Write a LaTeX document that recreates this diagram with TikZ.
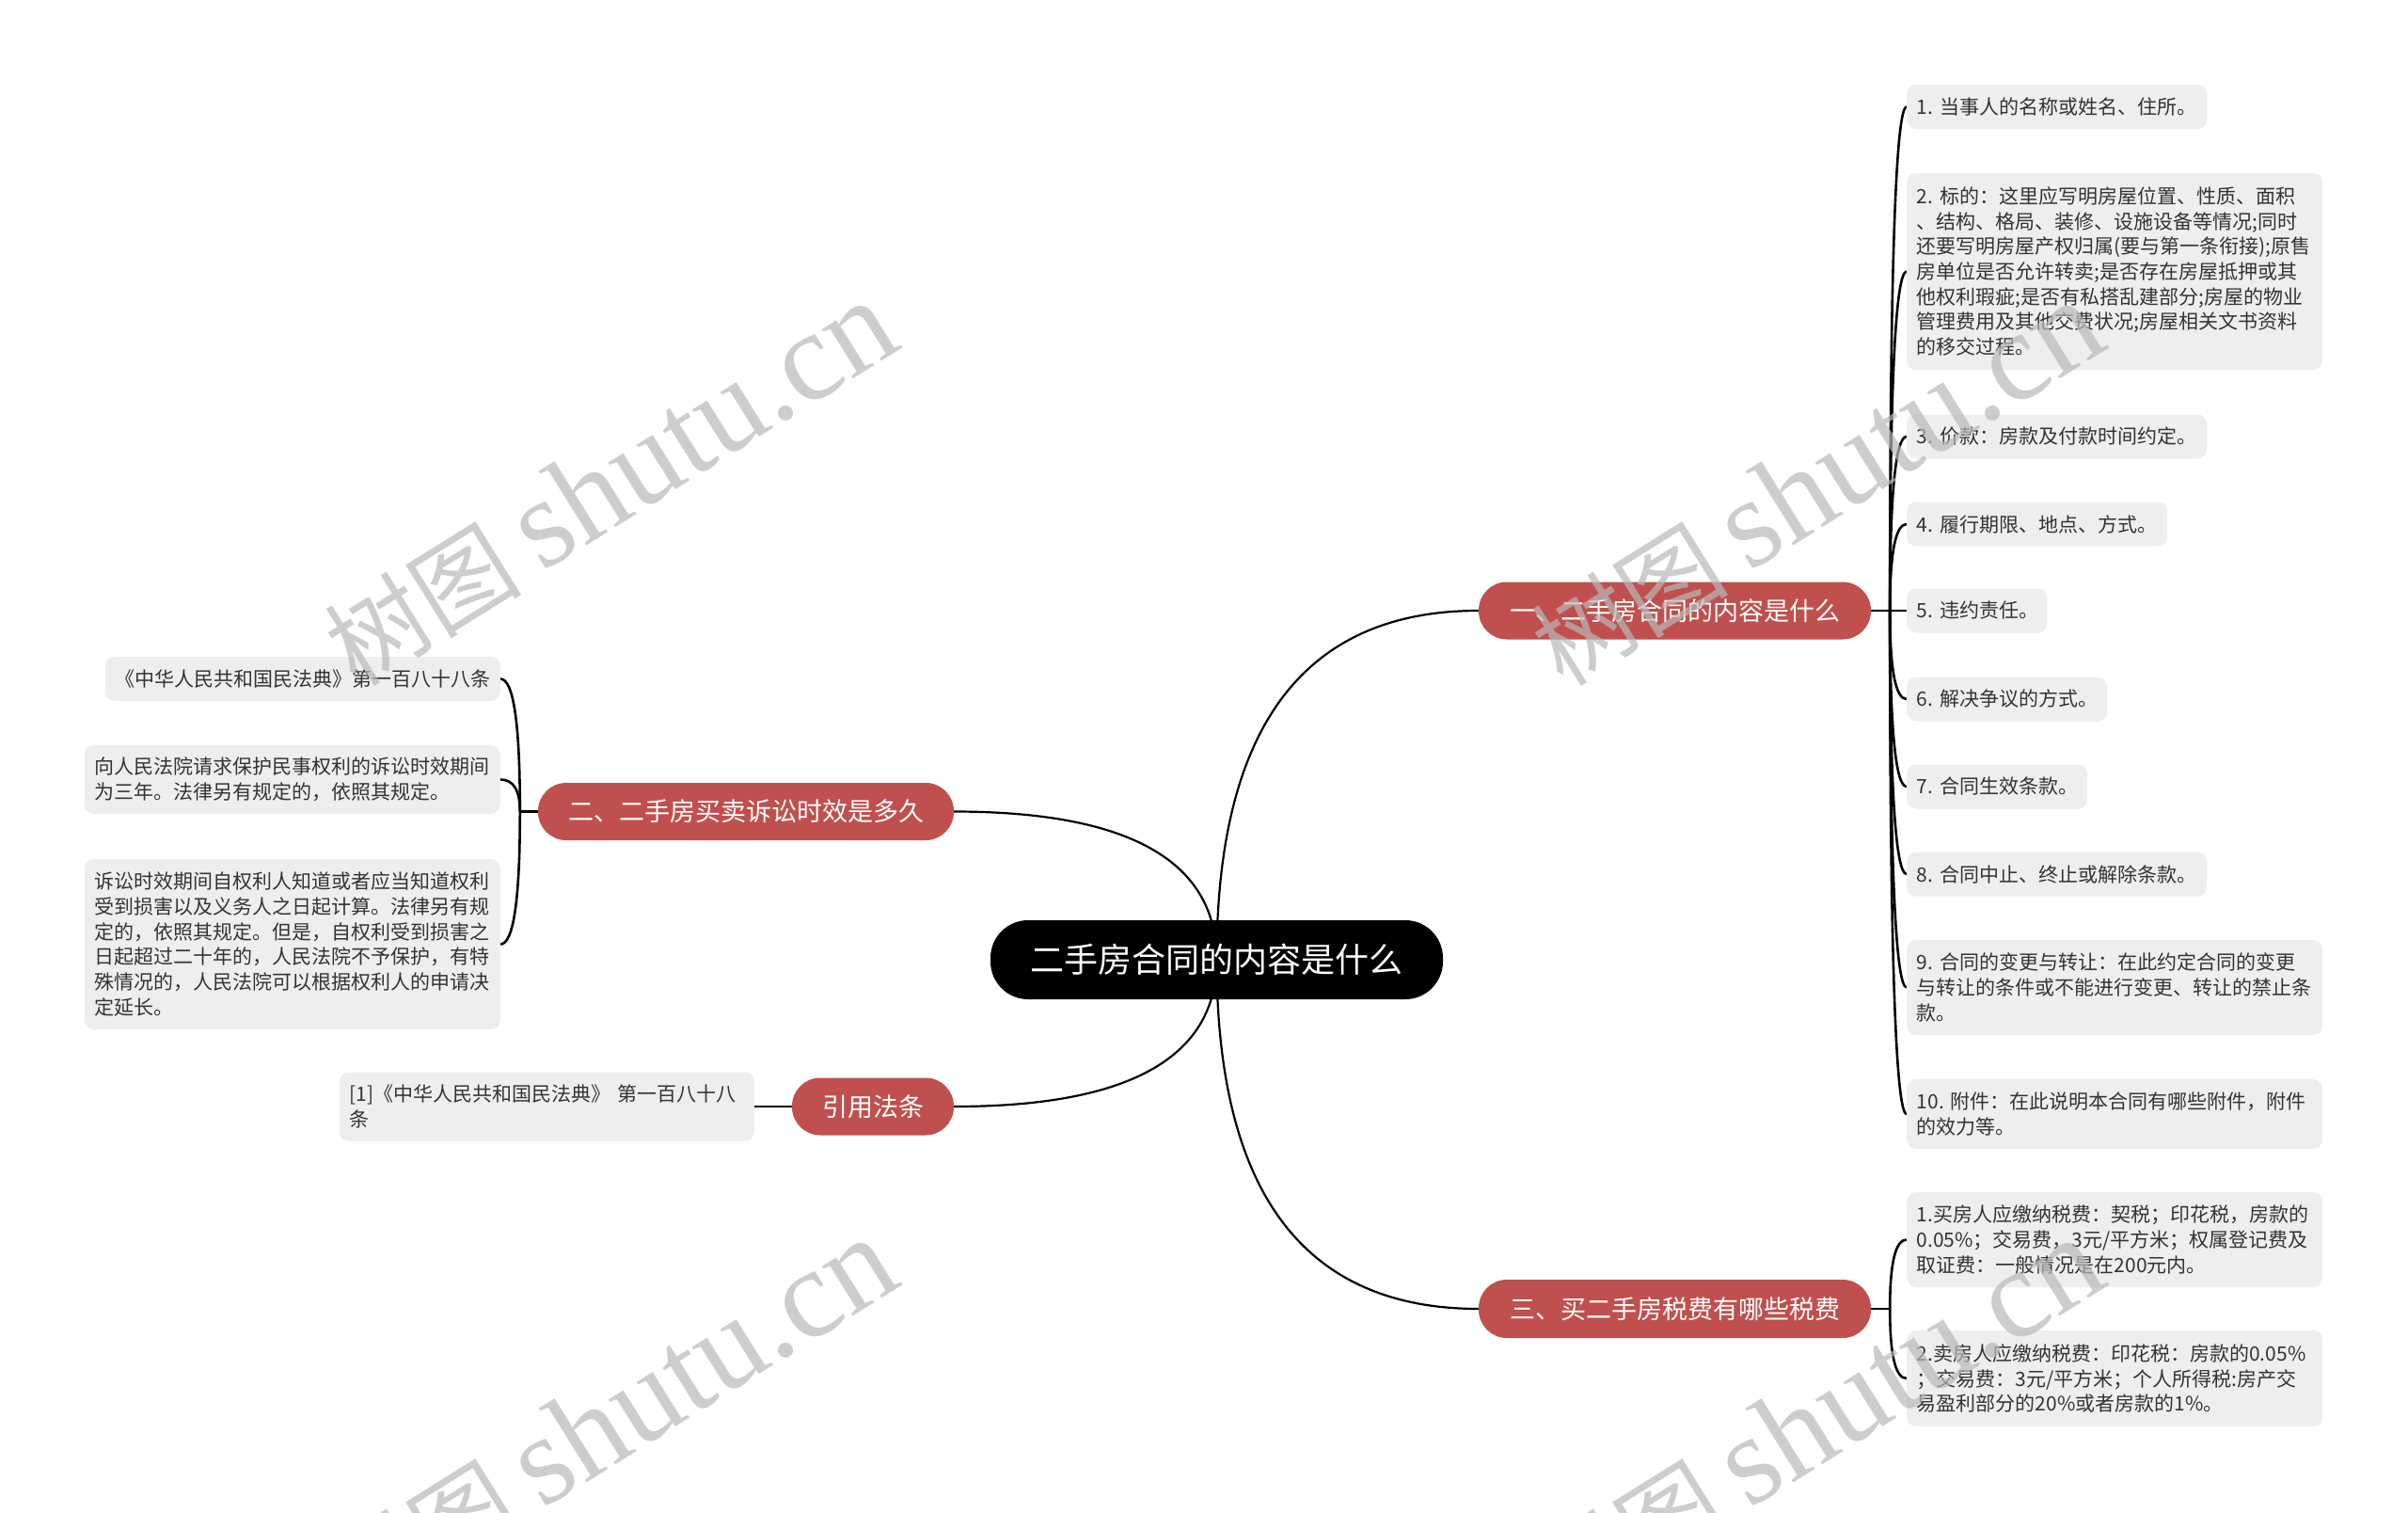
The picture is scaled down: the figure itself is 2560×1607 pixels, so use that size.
\documentclass[tikz,border=0pt]{standalone}
\usepackage{fontspec}
\setmainfont{Noto Sans CJK SC}
\newfontfamily\wmserif{Liberation Serif}
\usetikzlibrary{calc,backgrounds}
\definecolor{redc}{RGB}{192,80,77}
\definecolor{leafgray}{RGB}{238,238,238}
\definecolor{leaftext}{RGB}{51,51,51}
\definecolor{wmgray}{RGB}{185,185,185}
\newcommand\qcurve[3][]{\draw[#1] (#2) .. controls ($(#2)!0.6667!(#2|-#3)$) and ($(#3)!0.6667!(#2|-#3)$) .. (#3);}
\tikzset{
 leaf/.style 2 args={fill=leafgray, rounded corners=10pt, text=leaftext, font=\fontsize{21}{26.7}\selectfont, align=left, text width=#1, minimum height=#2, inner xsep=10.5pt, inner ysep=0pt},
 branch/.style 2 args={fill=redc, text=white, font=\fontsize{27}{32}\selectfont, minimum width=#1, minimum height=#2, rounded corners=30pt, inner sep=0pt},
 root/.style={fill=black, text=white, font=\fontsize{36}{42}\selectfont, minimum width=481pt, minimum height=84pt, rounded corners=40pt, inner sep=0pt},
 mainline/.style={line width=2.2pt, black},
 leafline/.style={line width=2.6pt, black},
 watermark/.style={text=wmgray, opacity=0.7, rotate=32, inner sep=0pt},
}
\begin{document}
\begin{tikzpicture}[x=1pt, y=-1pt]
\useasboundingbox (0,0) rectangle (2560,1607);

% main nodes
\node[root] (c) at (1293.5,1020) {二手房合同的内容是什么};
\node[branch={417pt}{61pt}] (n1) at (1780.5,649) {一、二手房合同的内容是什么};
\node[branch={442pt}{61pt}] (n2) at (793,862.5) {二、二手房买卖诉讼时效是多久};
\node[branch={172pt}{61pt}] (n4) at (928,1176) {引用法条};
\node[branch={417pt}{62pt}] (n3) at (1780.5,1391) {三、买二手房税费有哪些税费};

% right leaves of n1
\node[leaf={298pt}{47pt}, anchor=west] (r1) at (2027,113.5) {1.~当事人的名称或姓名、住所。};
\node[leaf={421pt}{209pt}, anchor=west] (r2) at (2027,288.5) {2.~标的：这里应写明房屋位置、性质、面积\\、结构、格局、装修、设施设备等情况;同时\\还要写明房屋产权归属(要与第一条衔接);原售\\房单位是否允许转卖;是否存在房屋抵押或其\\他权利瑕疵;是否有私搭乱建部分;房屋的物业\\管理费用及其他交费状况;房屋相关文书资料\\的移交过程。};
\node[leaf={298pt}{47pt}, anchor=west] (r3) at (2027,464) {3.~价款：房款及付款时间约定。};
\node[leaf={256pt}{47pt}, anchor=west] (r4) at (2027,557) {4.~履行期限、地点、方式。};
\node[leaf={128pt}{47pt}, anchor=west] (r5) at (2027,649) {5.~违约责任。};
\node[leaf={192pt}{47pt}, anchor=west] (r6) at (2027,743) {6.~解决争议的方式。};
\node[leaf={171pt}{47pt}, anchor=west] (r7) at (2027,836) {7.~合同生效条款。};
\node[leaf={298pt}{47pt}, anchor=west] (r8) at (2027,929) {8.~合同中止、终止或解除条款。};
\node[leaf={421pt}{101pt}, anchor=west] (r9) at (2027,1049.5) {9.~合同的变更与转让：在此约定合同的变更\\与转让的条件或不能进行变更、转让的禁止条\\款。};
\node[leaf={421pt}{74pt}, anchor=west] (r10) at (2027,1184) {10.~附件：在此说明本合同有哪些附件，附件\\的效力等。};

% leaves of n3
\node[leaf={421pt}{101pt}, anchor=west] (t1) at (2027,1317.5) {1.买房人应缴纳税费：契税；印花税，房款的\\0.05\%；交易费，3元/平方米；权属登记费及\\取证费：一般情况是在200元内。};
\node[leaf={421pt}{102pt}, anchor=west] (t2) at (2027,1465) {2.卖房人应缴纳税费：印花税：房款的0.05\%\\；交易费：3元/平方米；个人所得税:房产交\\易盈利部分的20\%或者房款的1\%。};

% leaves of n2
\node[leaf={399pt}{47pt}, anchor=east] (l1) at (532,721.5) {《中华人民共和国民法典》第一百八十八条};
\node[leaf={421pt}{73pt}, anchor=east] (l2) at (532,828.5) {向人民法院请求保护民事权利的诉讼时效期间\\为三年。法律另有规定的，依照其规定。};
\node[leaf={421pt}{181pt}, anchor=east] (l3) at (532,1003.5) {诉讼时效期间自权利人知道或者应当知道权利\\受到损害以及义务人之日起计算。法律另有规\\定的，依照其规定。但是，自权利受到损害之\\日起超过二十年的，人民法院不予保护，有特\\殊情况的，人民法院可以根据权利人的申请决\\定延长。};

% leaf of n4
\node[leaf={420pt}{73pt}, anchor=east] (cite) at (802,1176) {[1]《中华人民共和国民法典》~第一百八十八\\条};

\coordinate (j1) at ($(n1.east)+(20,0)$);
\coordinate (j2) at ($(n2.west)+(-19,0)$);
\coordinate (j3) at ($(n3.east)+(20,0)$);

\begin{pgfonlayer}{background}
\fill[white] (0,0) rectangle (2560,1607);
\qcurve[mainline]{c.center}{n1.west}
\qcurve[mainline]{c.center}{n2.east}
\qcurve[mainline]{c.center}{n4.east}
\qcurve[mainline]{c.center}{n3.west}
\draw[leafline] (n1.east) -- (r5.west);
\qcurve[leafline]{j1}{r1.west}
\qcurve[leafline]{j1}{r2.west}
\qcurve[leafline]{j1}{r3.west}
\qcurve[leafline]{j1}{r4.west}
\qcurve[leafline]{j1}{r6.west}
\qcurve[leafline]{j1}{r7.west}
\qcurve[leafline]{j1}{r8.west}
\qcurve[leafline]{j1}{r9.west}
\qcurve[leafline]{j1}{r10.west}
\draw[leafline] (n3.east) -- (j3);
\qcurve[leafline]{j3}{t1.west}
\qcurve[leafline]{j3}{t2.west}
\draw[leafline] (n2.west) -- (j2);
\qcurve[leafline]{j2}{l1.east}
\qcurve[leafline]{j2}{l2.east}
\qcurve[leafline]{j2}{l3.east}
\draw[leafline] (n4.west) -- (cite.east);
\end{pgfonlayer}

% watermarks
\node[watermark] (w1) at (648,514) {{\fontsize{105}{105}\selectfont 树图}\hspace{22pt}{\wmserif\fontsize{135}{135}\selectfont shutu.cn}};
\node[watermark] (w2) at (1931,514) {{\fontsize{105}{105}\selectfont 树图}\hspace{22pt}{\wmserif\fontsize{135}{135}\selectfont shutu.cn}};
\node[watermark] (w3) at (648,1510) {{\fontsize{105}{105}\selectfont 树图}\hspace{22pt}{\wmserif\fontsize{135}{135}\selectfont shutu.cn}};
\node[watermark] (w4) at (1931,1510) {{\fontsize{105}{105}\selectfont 树图}\hspace{22pt}{\wmserif\fontsize{135}{135}\selectfont shutu.cn}};
\end{tikzpicture}
\end{document}
